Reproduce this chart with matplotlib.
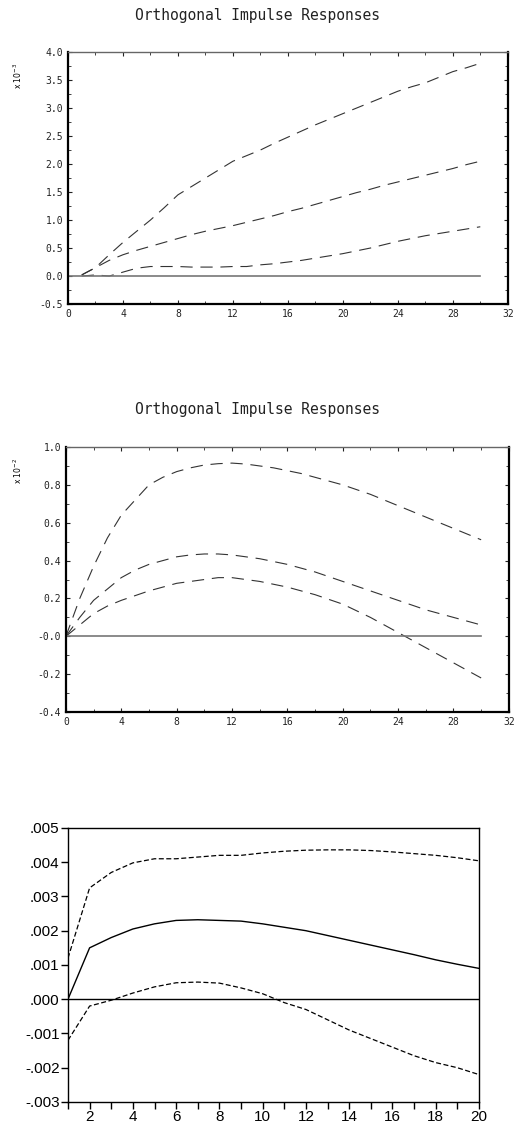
import matplotlib.pyplot as plt
from matplotlib.ticker import MultipleLocator, FuncFormatter

# top panel: responses, scale x 10^-3
steps_a = list(range(1, 31))
upper_a = [0.02, 0.15, 0.38, 0.60, 0.80, 1.00, 1.22, 1.45, 1.60, 1.75, 1.90, 2.05,
           2.15, 2.25, 2.37, 2.48, 2.59, 2.70, 2.80, 2.90, 3.00, 3.10, 3.20, 3.30,
           3.38, 3.45, 3.55, 3.65, 3.72, 3.80]
mid_a = [0.02, 0.15, 0.28, 0.38, 0.46, 0.53, 0.60, 0.67, 0.74, 0.80, 0.85, 0.90,
         0.96, 1.02, 1.08, 1.15, 1.21, 1.28, 1.35, 1.42, 1.49, 1.55, 1.62, 1.68,
         1.74, 1.80, 1.86, 1.92, 1.99, 2.05]
low_a = [0.00, 0.02, 0.00, 0.07, 0.14, 0.17, 0.17, 0.17, 0.16, 0.16, 0.16, 0.17,
         0.17, 0.20, 0.22, 0.25, 0.28, 0.32, 0.36, 0.40, 0.45, 0.50, 0.56, 0.62,
         0.67, 0.72, 0.76, 0.80, 0.84, 0.88]

# middle panel: responses, scale x 10^-2
steps_b = list(range(0, 31))
upper_b = [0.00, 0.20, 0.37, 0.52, 0.64, 0.72, 0.80, 0.84, 0.87, 0.89, 0.905, 0.912,
           0.915, 0.91, 0.90, 0.89, 0.875, 0.86, 0.84, 0.82, 0.80, 0.775, 0.75, 0.72,
           0.69, 0.66, 0.63, 0.60, 0.57, 0.54, 0.51]
mid_b = [0.00, 0.10, 0.19, 0.25, 0.31, 0.35, 0.38, 0.40, 0.42, 0.43, 0.435, 0.435,
         0.43, 0.42, 0.41, 0.395, 0.38, 0.36, 0.34, 0.315, 0.29, 0.265, 0.24, 0.215,
         0.19, 0.165, 0.14, 0.12, 0.10, 0.08, 0.06]
low_b = [0.00, 0.06, 0.12, 0.16, 0.19, 0.215, 0.24, 0.26, 0.28, 0.29, 0.30, 0.31,
         0.31, 0.30, 0.29, 0.275, 0.26, 0.24, 0.22, 0.195, 0.17, 0.135, 0.10, 0.06,
         0.02, -0.02, -0.06, -0.10, -0.14, -0.18, -0.22]

# bottom panel: response with +/- 2 s.e. bands
steps_c = list(range(1, 21))
resp_c = [0.0, 0.0015, 0.0018, 0.00205, 0.0022, 0.0023, 0.00232, 0.0023, 0.00228,
          0.0022, 0.0021, 0.0020, 0.00186, 0.00172, 0.00158, 0.00144, 0.0013,
          0.00115, 0.00102, 0.0009]
upper_c = [0.0012, 0.00325, 0.0037, 0.00398, 0.0041, 0.0041, 0.00415, 0.0042, 0.0042,
           0.00427, 0.00432, 0.00435, 0.00436, 0.00436, 0.00434, 0.0043, 0.00425,
           0.0042, 0.00413, 0.00404]
lower_c = [-0.0012, -0.0002, -0.00003, 0.00018, 0.00036, 0.00048, 0.0005, 0.00047,
           0.00033, 0.00016, -0.0001, -0.0003, -0.0006, -0.0009, -0.00115, -0.0014,
           -0.00165, -0.00185, -0.002, -0.0022]

fig = plt.figure(figsize=(5.15, 11.24), dpi=100)
MONO = 'DejaVu Sans Mono'

def old_style(ax, x, series, ylim, ymajor, yminor, scale_label, title, title_y):
    for s in series:
        ax.plot(x, s, color='#333333', lw=0.8, dashes=(11, 7))
    ax.plot([0, 30], [0, 0], color='#777777', lw=1.2)
    ax.set_xlim(0, 32)
    ax.set_ylim(*ylim)
    ax.xaxis.set_major_locator(MultipleLocator(4))
    ax.xaxis.set_minor_locator(MultipleLocator(2))
    ax.yaxis.set_major_locator(MultipleLocator(ymajor))
    ax.yaxis.set_minor_locator(MultipleLocator(yminor))
    ax.tick_params(which='both', direction='in', top=True, right=True,
                   labelsize=7, colors='#222222', length=3)
    ax.tick_params(which='minor', length=2)
    for lab in ax.get_xticklabels() + ax.get_yticklabels():
        lab.set_fontfamily(MONO)
    for side in ['left', 'bottom', 'right']:
        ax.spines[side].set_linewidth(1.6)
    ax.spines['top'].set_linewidth(1.0)
    ax.spines['top'].set_color('#666666')
    fig.text(0.035, ax.get_position().y1 - 0.01, scale_label, rotation=90,
             fontsize=5.5, ha='center', va='top')
    fig.text(0.5, title_y, title, ha='center', va='center', fontsize=10.5,
             family=MONO, color='#222222')

ax1 = fig.add_axes([0.132, 0.7295, 0.854, 0.2242])
ax1.yaxis.set_major_formatter(FuncFormatter(lambda v, p: '%.1f' % v))
old_style(ax1, steps_a, [upper_a, mid_a, low_a], (-0.5, 4.0), 0.5, 0.25,
          r'x $10^{-3}$', 'Orthogonal Impulse Responses', 0.9866)

ax2 = fig.add_axes([0.128, 0.3665, 0.860, 0.2358])
ax2.yaxis.set_major_formatter(
    FuncFormatter(lambda v, p: '-0.0' if abs(v) < 1e-9 else '%.1f' % v))
old_style(ax2, steps_b, [upper_b, mid_b, low_b], (-0.4, 1.0), 0.2, 0.1,
          r'x $10^{-2}$', 'Orthogonal Impulse Responses', 0.6361)

ax3 = fig.add_axes([0.132, 0.0196, 0.798, 0.2438])
ax3.plot(steps_c, resp_c, color='black', lw=1.0)
ax3.plot(steps_c, upper_c, color='black', lw=0.9, dashes=(4, 2))
ax3.plot(steps_c, lower_c, color='black', lw=0.9, dashes=(4, 2))
ax3.axhline(0, color='black', lw=1.0)
ax3.set_xlim(1, 20)
ax3.set_ylim(-0.003, 0.005)
ax3.set_xticks(range(1, 21))
ax3.set_xticklabels([str(i) if i % 2 == 0 else '' for i in range(1, 21)])
ax3.set_yticks([-0.003, -0.002, -0.001, 0.0, 0.001, 0.002, 0.003, 0.004, 0.005])
ax3.yaxis.set_major_formatter(
    FuncFormatter(lambda v, p: ('%.3f' % v).replace('0.', '.')))
ax3.tick_params(direction='out', labelsize=11, length=5, width=1.0, pad=1)
for lab in ax3.get_xticklabels() + ax3.get_yticklabels():
    lab.set_fontfamily('Liberation Sans')
for sp in ax3.spines.values():
    sp.set_linewidth(1.0)

fig.savefig('out.png', dpi=100)
